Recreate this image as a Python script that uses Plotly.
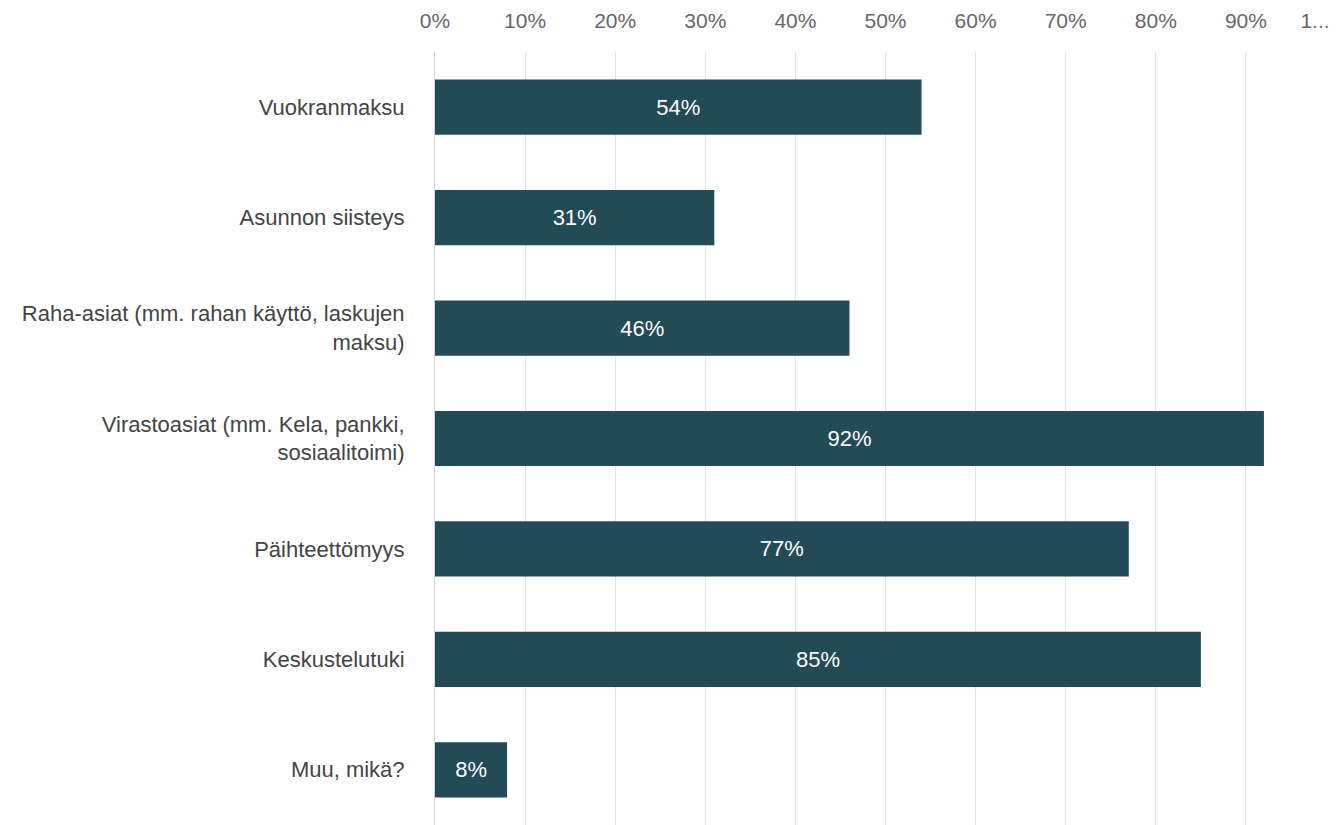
import plotly.graph_objects as go

categories = [
    "Vuokranmaksu",
    "Asunnon siisteys",
    "Raha-asiat (mm. rahan käyttö, laskujen<br>maksu)",
    "Virastoasiat (mm. Kela, pankki,<br>sosiaalitoimi)",
    "Päihteettömyys",
    "Keskustelutuki",
    "Muu, mikä?",
]
values = [54, 31, 46, 92, 77, 85, 8]
tick_vals = [0, 10, 20, 30, 40, 50, 60, 70, 80, 90, 100]
tick_text = ["0%", "10%", "20%", "30%", "40%", "50%", "60%", "70%", "80%", "90%", ""]
last_tick_val = [100]
last_tick_text = ["1..."]

BAR = "#234a57"
FONT = "Liberation Sans, Arial, sans-serif"

fig = go.Figure()
fig.add_trace(
    go.Bar(
        y=categories,
        x=values,
        orientation="h",
        marker=dict(color=BAR, line=dict(width=0)),
        width=0.5,
        text=[f"{v}%" for v in values],
        textposition="inside",
        insidetextanchor="middle",
        textfont=dict(color="white", size=22, family=FONT),
        hoverinfo="skip",
    )
)
# invisible helper trace so the second (label-only) axis is drawn
fig.add_trace(
    go.Scatter(
        x=last_tick_val,
        y=[categories[0]],
        xaxis="x2",
        mode="markers",
        marker=dict(opacity=0),
        hoverinfo="skip",
        showlegend=False,
    )
)

fig.update_layout(
    width=1342,
    height=825,
    margin=dict(l=427, r=14, t=44, b=8),
    paper_bgcolor="white",
    plot_bgcolor="white",
    showlegend=False,
    font=dict(family=FONT, size=22, color="#444444"),
    uniformtext=dict(minsize=8, mode="show"),
    xaxis=dict(
        side="top",
        range=[0, 100],
        tickvals=tick_vals,
        ticktext=tick_text,
        tickfont=dict(size=21, color="#666666", family=FONT),
        showgrid=True,
        gridcolor="#e3e3e3",
        gridwidth=1,
        zeroline=False,
        showline=False,
        ticks="",
        ticklabelstandoff=19,
        automargin=False,
        fixedrange=True,
    ),
    xaxis2=dict(
        overlaying="x",
        side="top",
        range=[0, 100],
        tickvals=last_tick_val,
        ticktext=last_tick_text,
        tickfont=dict(size=21, color="#666666", family=FONT),
        showgrid=False,
        zeroline=False,
        showline=False,
        ticks="",
        ticklabelstandoff=19,
        ticklabelshift=-21,
        automargin=False,
        fixedrange=True,
    ),
    yaxis=dict(
        categoryorder="array",
        categoryarray=categories[::-1],
        autorange=False,
        range=[-0.5, 6.5],
        tickfont=dict(size=22, color="#444444", family=FONT),
        showline=True,
        linecolor="#cdd5e3",
        linewidth=1,
        ticks="",
        ticklabelstandoff=25,
        showgrid=False,
        automargin=False,
        fixedrange=True,
    ),
)

fig.write_html("out.html")
